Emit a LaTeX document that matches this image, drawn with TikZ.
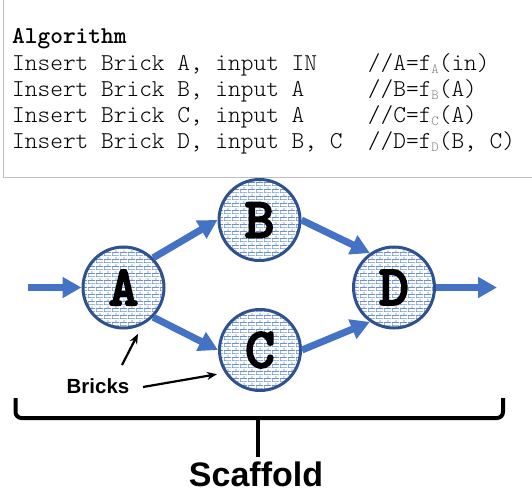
\documentclass[tikz,border=0pt]{standalone}
\usepackage{fontspec}
\setmainfont{Liberation Serif}
\setsansfont{Liberation Sans}
\setmonofont{lmmonolt10-regular}[Extension=.otf, BoldFont=lmmonolt10-bold]
\newfontface\brickface{lmmonolt10-bold.otf}[FakeBold=3]
\usepackage{tikz}
\usetikzlibrary{arrows.meta, patterns}

\definecolor{flowblue}{HTML}{4472C4}
\definecolor{rimblue}{HTML}{2F528F}
\definecolor{mortar}{HTML}{6A8FD6}

\pgfdeclarepatternformonly{brickwall}{\pgfpointorigin}{\pgfpoint{8pt}{7pt}}{\pgfpoint{8pt}{7pt}}{
  \pgfsetlinewidth{0.8pt}
  \pgfpathmoveto{\pgfpoint{0pt}{0.4pt}}\pgfpathlineto{\pgfpoint{8pt}{0.4pt}}
  \pgfpathmoveto{\pgfpoint{0pt}{3.9pt}}\pgfpathlineto{\pgfpoint{8pt}{3.9pt}}
  \pgfpathmoveto{\pgfpoint{0.4pt}{0.4pt}}\pgfpathlineto{\pgfpoint{0.4pt}{3.9pt}}
  \pgfpathmoveto{\pgfpoint{4.4pt}{3.9pt}}\pgfpathlineto{\pgfpoint{4.4pt}{7pt}}
  \pgfusepath{stroke}
}

\newcommand{\fsub}[1]{\raisebox{-3pt}{\fontsize{14}{14}\selectfont\textcolor{gray}{#1}}}

\tikzset{
  brick/.style={circle, draw=rimblue, line width=3pt, minimum size=81pt, inner sep=0pt,
    preaction={fill=white}, pattern=brickwall, pattern color=mortar,
    font=\fontsize{57}{57}\selectfont\brickface},
  flow/.style={draw=flowblue, line width=7pt, -{Triangle[length=19pt,width=20pt]}},
  pointer/.style={draw=black, line width=2.2pt, -{Stealth[length=10pt,width=8pt]}},
  codeline/.style={anchor=base west, inner sep=0pt, font=\fontsize{24.2}{26}\selectfont\ttfamily},
}

\begin{document}
\begin{tikzpicture}[x=1pt,y=1pt]
\useasboundingbox (0,0) rectangle (532,493);
% code listing
\draw[black!25, line width=1pt] (3.5,493) -- (3.5,315) -- (532,315);
\node[codeline, font=\fontsize{24.2}{26}\selectfont\ttfamily\bfseries] (algo) at (12,449.5) {Algorithm};
\node[codeline] (lineA) at (12,422.3) {Insert~Brick~A,~input~IN~~~~//A=f\fsub{A}(in)};
\node[codeline] (lineB) at (12,396.3) {Insert~Brick~B,~input~A~~~~~//B=f\fsub{B}(A)};
\node[codeline] (lineC) at (12,370.3) {Insert~Brick~C,~input~A~~~~~//C=f\fsub{C}(A)};
\node[codeline] (lineD) at (12,344.7) {Insert~Brick~D,~input~B,~C~~//D=f\fsub{D}(B,~C)};
% bricks
\node[brick] (A) at (123.5,205.5) {A};
\node[brick] (B) at (259.5,273) {B};
\node[brick] (C) at (260,143) {C};
\node[brick] (D) at (394,205.5) {D};
\coordinate (in) at (28,205.5);
\coordinate (out) at (497,205.5);
\draw[flow] (in) -- (A.west);
\draw[flow] (A.45) -- (B.west);
\draw[flow] (A.-45) -- (C.west);
\draw[flow] (B.east) -- (D.125);
\draw[flow] (C.east) -- (D.235);
\draw[flow] (D.east) -- (out);
% labels
\node[font=\fontsize{20.5}{20.5}\selectfont\sffamily\bfseries, anchor=base, inner sep=0pt] (bricks) at (98,100) {Bricks};
\coordinate (tailA) at (122,128);
\coordinate (tailC) at (143,106);
\draw[pointer, shorten >=10pt] (tailA) -- (A.-63);
\draw[pointer, shorten >=8pt] (tailC) -- (C.213);
% scaffold brace
\draw[line width=4pt, rounded corners=6pt] (15.5,95) -- (15.5,75) -- (503,75) -- (503,95);
\draw[line width=4.5pt] (258,75) -- (258,36);
\node[font=\fontsize{34}{34}\selectfont\sffamily\bfseries, anchor=base, inner sep=0pt] (scaffold) at (256,7) {Scaffold};
\end{tikzpicture}
\end{document}
